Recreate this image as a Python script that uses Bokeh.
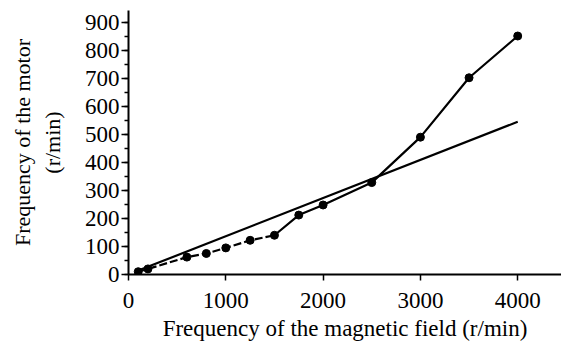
from bokeh.plotting import figure
from bokeh.models import SingleIntervalTicker, Range1d
from bokeh.embed import file_html
from bokeh.resources import INLINE

# measured data (r/min)
field_freq = [100, 200, 600, 800, 1000, 1250, 1500, 1750, 2000, 2500, 3000, 3500, 4000]
motor_freq = [10, 20, 62, 75, 95, 122, 140, 212, 248, 328, 490, 702, 851]
# straight reference line
fit_x = [100, 4000]
fit_y = [14, 545]
dashed_until = 7  # first 7 points joined by dashed line

FONT = "Liberation Serif"

p = figure(width=561, height=343, output_backend="svg", toolbar_location=None,
           x_range=Range1d(0, 4450), y_range=Range1d(0, 942),
           min_border_left=128, min_border_right=0, min_border_top=10, min_border_bottom=10)
p.outline_line_color = None
p.grid.visible = False
p.background_fill_color = "white"
p.border_fill_color = "white"

p.line(fit_x, fit_y, line_color="black", line_width=2.2)
p.line(field_freq[:dashed_until], motor_freq[:dashed_until], line_color="black",
       line_width=2.2, line_dash="8 3")
p.line(field_freq[dashed_until - 1:], motor_freq[dashed_until - 1:], line_color="black",
       line_width=2.2)
p.scatter(field_freq, motor_freq, size=8, color="black")

p.xaxis.ticker = SingleIntervalTicker(interval=1000, num_minor_ticks=2)
p.yaxis.ticker = SingleIntervalTicker(interval=100, num_minor_ticks=2)

for ax in (p.xaxis[0], p.yaxis[0]):
    ax.axis_line_width = 2
    ax.axis_line_color = "black"
    ax.major_tick_line_color = "black"
    ax.minor_tick_line_color = "black"
    ax.major_tick_line_width = 1.5
    ax.minor_tick_line_width = 1.5
    ax.major_tick_in = 0
    ax.minor_tick_in = 0
    ax.major_label_text_font = FONT
    ax.major_label_text_font_size = "23px"
    ax.major_label_text_font_style = "normal"
    ax.major_label_text_color = "black"
    ax.axis_label_text_font = FONT
    ax.axis_label_text_font_style = "normal"
    ax.axis_label_text_color = "black"

p.xaxis.major_tick_out = 6
p.xaxis.minor_tick_out = 0
p.xaxis.major_label_standoff = 12
p.xaxis.axis_label = "Frequency of the magnetic field (r/min)"
p.xaxis.axis_label_text_font_size = "23px"
p.xaxis.axis_label_standoff = 5

p.yaxis.major_tick_out = 7
p.yaxis.minor_tick_out = 4
p.yaxis.major_label_standoff = 2
p.yaxis.axis_label = "Frequency of the motor\n(r/min)"
p.yaxis.axis_label_text_font_size = "22px"
p.yaxis.axis_label_standoff = 17

open("out.html", "w").write(file_html(p, INLINE))
